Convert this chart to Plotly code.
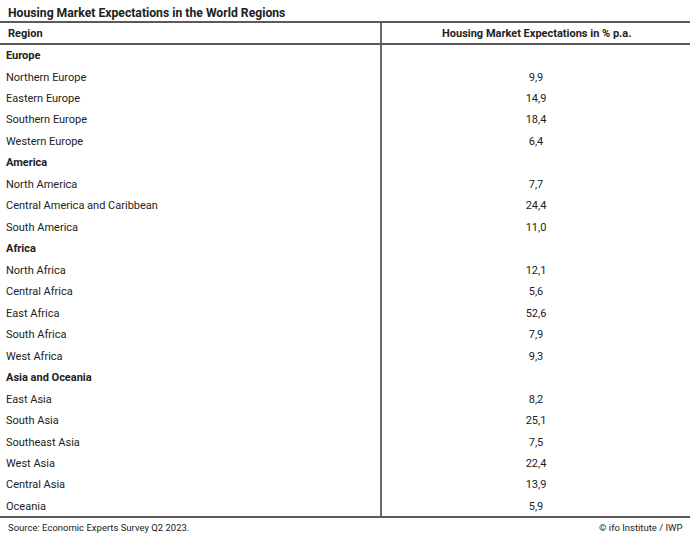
import plotly.graph_objects as go

title = "Housing Market Expectations in the World Regions"
col_headers = ["Region", "Housing Market Expectations in % p.a."]
regions = ["Europe", "Northern Europe", "Eastern Europe", "Southern Europe", "Western Europe",
           "America", "North America", "Central America and Caribbean", "South America",
           "Africa", "North Africa", "Central Africa", "East Africa", "South Africa", "West Africa",
           "Asia and Oceania", "East Asia", "South Asia", "Southeast Asia", "West Asia",
           "Central Asia", "Oceania"]
values = ["", "9,9", "14,9", "18,4", "6,4",
          "", "7,7", "24,4", "11,0",
          "", "12,1", "5,6", "52,6", "7,9", "9,3",
          "", "8,2", "25,1", "7,5", "22,4", "13,9", "5,9"]
is_group = [v == "" for v in values]
source = "Source: Economic Experts Survey Q2 2023."
credit = "© ifo Institute / IWP"

W, H = 690, 538
FONT = "Roboto"
TXT = "#222222"
LINE = "#5a5a5a"

row0, step = 56.3, 21.47
ys = [row0 + i * step for i in range(len(regions))]
x_label, x_val, x_div = 6, 536, 381

fig = go.Figure()
fig.add_trace(go.Scatter(
    x=[x_label] * sum(not g for g in is_group),
    y=[y for y, g in zip(ys, is_group) if not g],
    text=[r for r, g in zip(regions, is_group) if not g],
    mode="text", textposition="middle right",
    textfont=dict(family=FONT, size=11, color=TXT), hoverinfo="skip"))
fig.add_trace(go.Scatter(
    x=[x_label] * sum(is_group),
    y=[y for y, g in zip(ys, is_group) if g],
    text=["<b>" + r + "</b>" for r, g in zip(regions, is_group) if g],
    mode="text", textposition="middle right",
    textfont=dict(family=FONT, size=11, color=TXT), hoverinfo="skip"))
fig.add_trace(go.Scatter(
    x=[x_val] * sum(not g for g in is_group),
    y=[y for y, g in zip(ys, is_group) if not g],
    text=[v for v in values if v],
    mode="text", textposition="middle center",
    textfont=dict(family=FONT, size=11, color=TXT), hoverinfo="skip"))

annos = [
    dict(x=x_label, y=12.5, text="<b>" + title + "</b>", xanchor="left", yanchor="middle",
         font=dict(family=FONT, size=12.2, color=TXT)),
    dict(x=x_label, y=33.5, text="<b>" + col_headers[0] + "</b>", xanchor="left", yanchor="middle",
         font=dict(family=FONT, size=11, color=TXT)),
    dict(x=x_val, y=33.5, text="<b>" + col_headers[1] + "</b>", xanchor="center", yanchor="middle",
         font=dict(family=FONT, size=11, color=TXT)),
    dict(x=x_label, y=527.5, text=source, xanchor="left", yanchor="middle",
         font=dict(family=FONT, size=9.5, color=TXT)),
    dict(x=685, y=527.5, text=credit, xanchor="right", yanchor="middle",
         font=dict(family=FONT, size=9.5, color=TXT)),
]
for a in annos:
    a.update(xref="x", yref="y", showarrow=False)

shapes = [
    dict(type="line", x0=0, x1=W, y0=22, y1=22),
    dict(type="line", x0=0, x1=W, y0=44, y1=44),
    dict(type="line", x0=0, x1=W, y0=517, y1=517),
    dict(type="line", x0=x_div, x1=x_div, y0=22, y1=517),
]
for s in shapes:
    s.update(xref="x", yref="y", line=dict(color=LINE, width=1.8))

fig.update_layout(
    width=W, height=H, margin=dict(l=0, r=0, t=0, b=0),
    paper_bgcolor="white", plot_bgcolor="white", showlegend=False,
    xaxis=dict(range=[0, W], visible=False, fixedrange=True),
    yaxis=dict(range=[H, 0], visible=False, fixedrange=True),
    annotations=annos, shapes=shapes,
)
fig.write_html("out.html", config={"displayModeBar": False},
               post_script="document.body.style.margin='0px';document.body.style.overflow='hidden';")
